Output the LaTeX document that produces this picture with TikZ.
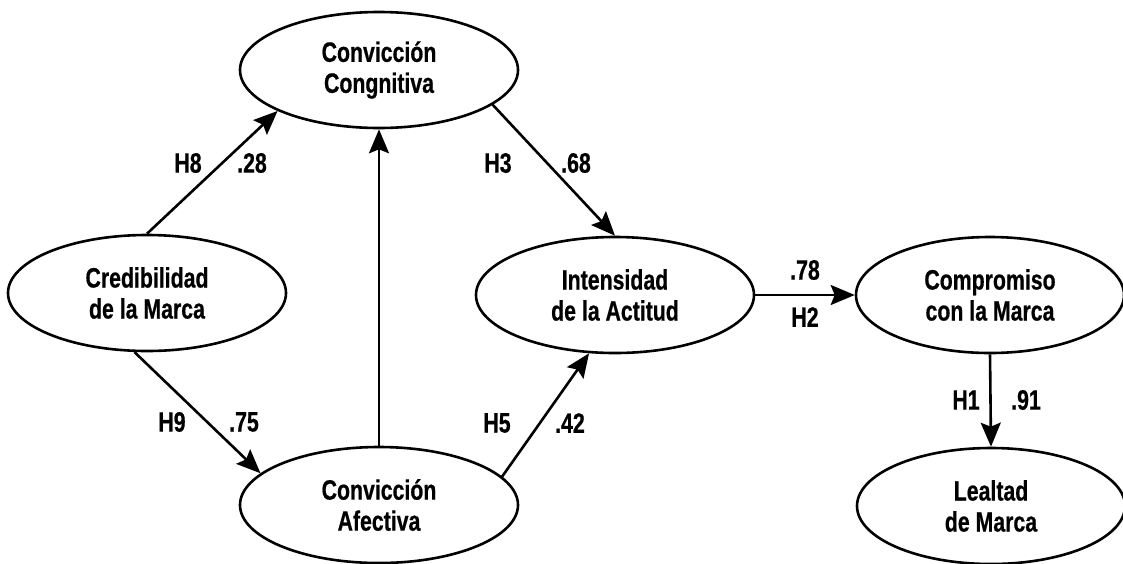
\documentclass[tikz,border=0pt]{standalone}
\usepackage{fontspec}
\newfontfamily\heavysans{Liberation Sans Bold}[FakeStretch=0.76, FakeBold=0.6]
\usetikzlibrary{shapes.geometric,arrows.meta}

\tikzset{
  construct/.style={ellipse, draw=black, line width=2.6pt, inner sep=0pt,
    minimum width=278pt, minimum height=116pt, align=center,
    font=\heavysans\fontsize{28}{31}\selectfont},
  narrowconstruct/.style={construct, minimum width=268pt},
  path/.style={line width=2.6pt, -{Stealth[length=24pt, width=20pt, inset=4pt]}},
  coef/.style={inner sep=0pt, font=\heavysans\fontsize{28}{31}\selectfont}
}

\begin{document}
\begin{tikzpicture}[x=1pt, y=-1pt]
  \useasboundingbox (0,0) rectangle (1123,563);

  % latent constructs
  \node[construct] (cong) at (379,70)  {Convicción\\Congnitiva};
  \node[construct] (cred) at (147,293) {Credibilidad\\de la Marca};
  \node[construct] (inte) at (615,295) {Intensidad\\de la Actitud};
  \node[construct] (afec) at (379,505) {Convicción\\Afectiva};
  \node[narrowconstruct] (comp) at (990,295) {Compromiso\\con la Marca};
  \node[narrowconstruct] (leal) at (991,506) {Lealtad\\de Marca};

  % structural paths
  \draw[path] (cred.north) -- (cong.202);
  \draw[path] (cred.258) -- (afec.165);
  \draw[path] (afec.north) -- (cong.south);
  \draw[path] (cong.343) -- (inte.north);
  \draw[path] (afec.13) -- (inte.246);
  \draw[path] (inte.east) -- (comp.west);
  \draw[path] (comp.south) -- (leal.north);

  % hypotheses and path coefficients
  \node[coef] (h8)  at (188,163) {H8};
  \node[coef] (c8)  at (252,163) {.28};
  \node[coef] (h9)  at (172,422) {H9};
  \node[coef] (c9)  at (244,422) {.75};
  \node[coef] (h3)  at (498,163) {H3};
  \node[coef] (c3)  at (576,163) {.68};
  \node[coef] (h5)  at (497,423) {H5};
  \node[coef] (c5)  at (570,423) {.42};
  \node[coef] (c2)  at (805,270) {.78};
  \node[coef] (h2)  at (805,317) {H2};
  \node[coef] (h1)  at (966,400) {H1};
  \node[coef] (c1)  at (1026,400) {.91};
\end{tikzpicture}
\end{document}
